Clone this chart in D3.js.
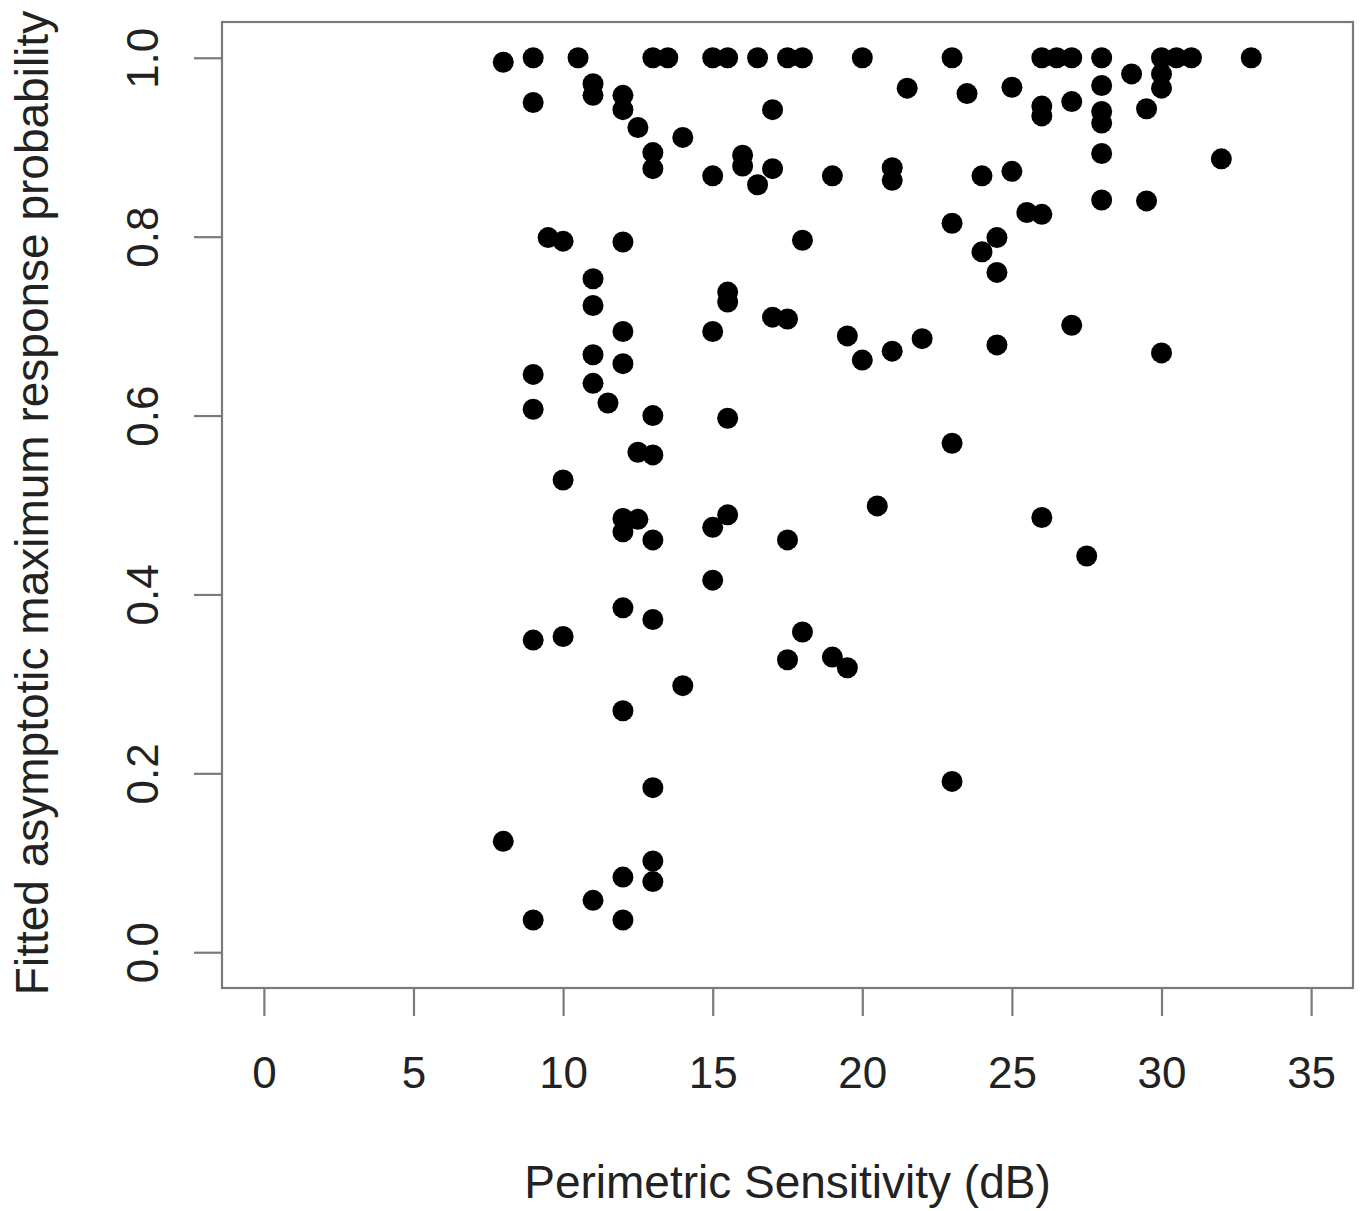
<!DOCTYPE html>
<html>
<head>
<meta charset="utf-8">
<script src="https://cdn.jsdelivr.net/npm/d3@7"></script>
<style>
  html, body { margin: 0; padding: 0; background: #fff; }
  svg { display: block; }
  text { font-family: "Liberation Sans", Arial, Helvetica, sans-serif; fill: #222; }
</style>
</head>
<body>
<svg id="chart" width="1361" height="1211"></svg>
<script>
// Perimetric sensitivity (dB) for each point
const sensitivity = [
  8, 8,
  9, 9, 9, 9, 9, 9,
  9.5,
  10, 10, 10,
  10.5,
  11, 11, 11, 11, 11, 11, 11,
  11.5,
  12, 12, 12, 12, 12, 12, 12, 12, 12, 12, 12,
  12.5, 12.5, 12.5,
  13, 13, 13, 13, 13, 13, 13, 13, 13, 13,
  13.5,
  14, 14,
  15, 15, 15, 15, 15,
  15.5, 15.5, 15.5, 15.5, 15.5,
  16, 16,
  16.5, 16.5,
  17, 17, 17,
  17.5, 17.5, 17.5, 17.5,
  18, 18, 18,
  19, 19,
  19.5, 19.5,
  20, 20,
  20.5,
  21, 21, 21,
  21.5,
  22,
  23, 23, 23, 23,
  23.5,
  24, 24,
  24.5, 24.5, 24.5,
  25, 25,
  25.5,
  26, 26, 26, 26, 26,
  26.5,
  27, 27, 27,
  27.5,
  28, 28, 28, 28, 28, 28,
  29,
  29.5, 29.5,
  30, 30, 30, 30,
  30.5,
  31,
  32,
  33
];
// Fitted asymptotic maximum response probability for each point
const probability = [
  0.995, 0.124,
  1.0, 0.95, 0.646, 0.607, 0.349, 0.036,
  0.799,
  0.795, 0.528, 0.353,
  1.0,
  0.971, 0.958, 0.753, 0.723, 0.668, 0.636, 0.058,
  0.614,
  0.958, 0.942, 0.794, 0.694, 0.658, 0.485, 0.470, 0.385, 0.270, 0.084, 0.036,
  0.922, 0.559, 0.484,
  1.0, 0.894, 0.876, 0.600, 0.556, 0.461, 0.372, 0.184, 0.102, 0.079,
  1.0,
  0.911, 0.298,
  1.0, 0.868, 0.694, 0.475, 0.416,
  1.0, 0.738, 0.727, 0.597, 0.489,
  0.891, 0.879,
  1.0, 0.858,
  0.942, 0.876, 0.710,
  1.0, 0.708, 0.461, 0.327,
  1.0, 0.796, 0.358,
  0.868, 0.330,
  0.689, 0.318,
  1.0, 0.662,
  0.499,
  0.877, 0.863, 0.672,
  0.966,
  0.686,
  1.0, 0.815, 0.569, 0.191,
  0.960,
  0.868, 0.783,
  0.799, 0.760, 0.679,
  0.967, 0.873,
  0.827,
  1.0, 0.946, 0.935, 0.825, 0.486,
  1.0,
  1.0, 0.951, 0.701,
  0.443,
  1.0, 0.969, 0.940, 0.927, 0.893, 0.841,
  0.982,
  0.943, 0.840,
  1.0, 0.982, 0.966, 0.670,
  1.0,
  1.0,
  0.887,
  1.0
];
const xTicks = [0, 5, 10, 15, 20, 25, 30, 35];
const yTicks = [0.0, 0.2, 0.4, 0.6, 0.8, 1.0];
const xTitle = "Perimetric Sensitivity (dB)";
const yTitle = "Fitted asymptotic maximum response probability";

const points = sensitivity.map((s, i) => ({ x: s, y: probability[i] }));

const box = { left: 222, right: 1353, top: 22, bottom: 988 };
const axisColor = "#7a7a7a";
const fontSize = 44;
const titleSize = 46;

const svg = d3.select("#chart");

// R-style 4% extension around xlim = c(0,35), ylim = c(0,1)
const x = d3.scaleLinear().domain([-1.4, 36.4]).range([box.left, box.right]);
const y = d3.scaleLinear().domain([-0.04, 1.04]).range([box.bottom, box.top]);

// points
svg.append("g")
  .selectAll("circle")
  .data(points)
  .join("circle")
  .attr("cx", d => x(d.x))
  .attr("cy", d => y(d.y))
  .attr("r", 10.5)
  .attr("fill", "#000");

// box
svg.append("rect")
  .attr("x", box.left)
  .attr("y", box.top)
  .attr("width", box.right - box.left)
  .attr("height", box.bottom - box.top)
  .attr("fill", "none")
  .attr("stroke", axisColor)
  .attr("stroke-width", 2.2);

// x axis
const gx = svg.append("g")
  .attr("transform", `translate(0,${box.bottom})`)
  .call(d3.axisBottom(x).tickValues(xTicks).tickSize(28).tickFormat(d3.format("d")));
gx.select(".domain").remove();
gx.selectAll(".tick line").attr("stroke", axisColor).attr("stroke-width", 2.2);
gx.selectAll(".tick text")
  .attr("y", 100)
  .attr("dy", null)
  .attr("fill", "#222")
  .style("font-size", fontSize + "px")
  .style("font-family", '"Liberation Sans", Arial, sans-serif');

// y axis
const gy = svg.append("g")
  .attr("transform", `translate(${box.left},0)`)
  .call(d3.axisLeft(y).tickValues(yTicks).tickSize(28).tickFormat(d3.format(".1f")));
gy.select(".domain").remove();
gy.selectAll(".tick line").attr("stroke", axisColor).attr("stroke-width", 2.2);
gy.selectAll(".tick text")
  .attr("x", 0)
  .attr("y", -64)
  .attr("dy", null)
  .attr("transform", "rotate(-90)")
  .attr("text-anchor", "middle")
  .attr("fill", "#222")
  .style("font-size", fontSize + "px")
  .style("font-family", '"Liberation Sans", Arial, sans-serif');

// titles
svg.append("text")
  .attr("x", (box.left + box.right) / 2)
  .attr("y", 1198)
  .attr("text-anchor", "middle")
  .style("font-size", titleSize + "px")
  .text(xTitle);

svg.append("text")
  .attr("transform", `translate(48,${(box.top + box.bottom) / 2 - 2}) rotate(-90)`)
  .attr("text-anchor", "middle")
  .style("font-size", titleSize + "px")
  .text(yTitle);
</script>
</body>
</html>
